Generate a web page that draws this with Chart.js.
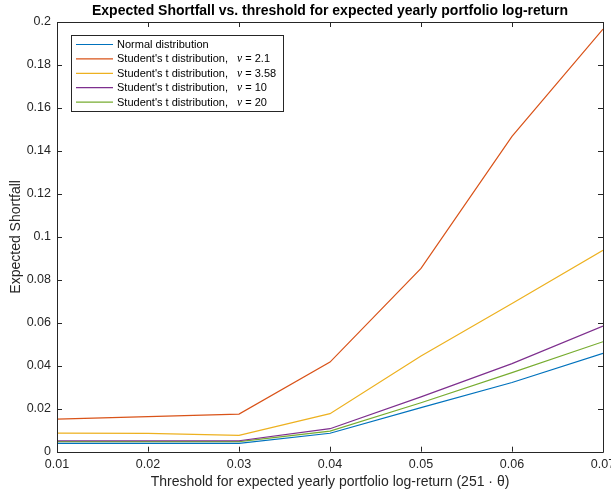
<!DOCTYPE html>
<html>
<head>
<meta charset="utf-8">
<script src="https://cdn.jsdelivr.net/npm/chart.js@4.4.1/dist/chart.umd.min.js"></script>
<style>
  html, body { margin: 0; padding: 0; background: #fff; overflow: hidden; }
  #wrap { position: relative; width: 625px; height: 495px; }
</style>
</head>
<body>
<div id="wrap"><canvas id="esChart"></canvas></div>
<script>
// Datos
const thresholds = [0.01, 0.02, 0.03, 0.04, 0.05, 0.06, 0.07];
const esNormal = [0.0039, 0.0039, 0.0039, 0.0086, 0.0205, 0.0322, 0.0458];
const esT21    = [0.0152, 0.0163, 0.0175, 0.0417, 0.0853, 0.1468, 0.1967];
const esT358   = [0.0086, 0.0085, 0.0076, 0.0177, 0.0445, 0.0690, 0.0937];
const esT10    = [0.0051, 0.0051, 0.0051, 0.0107, 0.0255, 0.0410, 0.0585];
const esT20    = [0.0047, 0.0047, 0.0047, 0.0096, 0.0228, 0.0368, 0.0512];

const seriesLabels = ['Normal distribution', "Student's t distribution,", "Student's t distribution,", "Student's t distribution,", "Student's t distribution,"];
const nuLabels = [null, '2.1', '3.58', '10', '20'];
const colores = ['#0072BD', '#D95319', '#EDB120', '#7E2F8E', '#77AC30'];

const titulo = 'Expected Shortfall vs. threshold for expected yearly portfolio log-return';
const textColor = '#262626';
const fontSans = '"Liberation Sans", Arial, Helvetica, sans-serif';

const allSeries = [esNormal, esT21, esT358, esT10, esT20];

const datasets = allSeries.map((serie, i) => ({
    label: seriesLabels[i] + (nuLabels[i] ? '  \u03BD = ' + nuLabels[i] : ''),
    data: thresholds.map((x, j) => ({ x: x, y: serie[j] })),
    borderColor: colores[i],
    backgroundColor: colores[i],
    borderWidth: 1.2,
    pointRadius: 0,
    tension: 0,
    fill: false
}));

// Marco tipo MATLAB, marcas hacia dentro, titulo y leyenda
const matlabBox = {
    id: 'matlabBox',
    afterDatasetsDraw(chart) {
        const ctx = chart.ctx;
        const a = chart.chartArea;
        const xs = chart.scales.x;
        const ys = chart.scales.y;
        const tl = 5;
        ctx.save();
        ctx.strokeStyle = textColor;
        ctx.lineWidth = 1;
        ctx.beginPath();
        ctx.rect(Math.round(a.left) + 0.5, Math.round(a.top) + 0.5, Math.round(a.right - a.left), Math.round(a.bottom - a.top));
        ctx.stroke();
        ctx.beginPath();
        xs.ticks.forEach(t => {
            const px = Math.round(xs.getPixelForValue(t.value)) + 0.5;
            ctx.moveTo(px, a.bottom); ctx.lineTo(px, a.bottom - tl);
            ctx.moveTo(px, a.top); ctx.lineTo(px, a.top + tl);
        });
        ys.ticks.forEach(t => {
            const py = Math.round(ys.getPixelForValue(t.value)) + 0.5;
            ctx.moveTo(a.left, py); ctx.lineTo(a.left + tl, py);
            ctx.moveTo(a.right, py); ctx.lineTo(a.right - tl, py);
        });
        ctx.stroke();

        // titulo
        ctx.fillStyle = '#000';
        ctx.font = 'bold 14px ' + fontSans;
        ctx.textAlign = 'center';
        ctx.textBaseline = 'middle';
        ctx.fillText(titulo, (a.left + a.right) / 2, 11);

        // leyenda
        const bx = 71, by = 35, bw = 212, bh = 76;
        ctx.fillStyle = '#fff';
        ctx.fillRect(bx, by, bw, bh);
        ctx.strokeStyle = textColor;
        ctx.lineWidth = 1;
        ctx.strokeRect(bx + 0.5, by + 0.5, bw, bh);
        ctx.textAlign = 'left';
        chart.data.datasets.forEach((ds, i) => {
            const yy = by + 9.5 + i * 14.4;
            ctx.strokeStyle = ds.borderColor;
            ctx.lineWidth = 1.2;
            ctx.beginPath();
            ctx.moveTo(bx + 5, yy); ctx.lineTo(bx + 42, yy);
            ctx.stroke();
            ctx.fillStyle = '#000';
            ctx.font = '11px ' + fontSans;
            let tx = bx + 46;
            ctx.fillText(seriesLabels[i], tx, yy + 0.5);
            if (nuLabels[i]) {
                tx += ctx.measureText(seriesLabels[i] + '   ').width;
                ctx.font = 'italic 11.5px "Liberation Serif", "Times New Roman", serif';
                ctx.fillText('\u03BD', tx, yy + 0.5);
                tx += ctx.measureText('\u03BD').width;
                ctx.font = '11px ' + fontSans;
                ctx.fillText(' = ' + nuLabels[i], tx, yy + 0.5);
            }
        });
        ctx.restore();
    }
};

new Chart(document.getElementById('esChart'), {
    type: 'line',
    data: { datasets: datasets },
    options: {
        responsive: true,
        maintainAspectRatio: false,
        animation: false,
        layout: { padding: { top: 22, right: 22, bottom: 0, left: 0 } },
        plugins: {
            legend: { display: false },
            title: { display: false },
            tooltip: { enabled: false }
        },
        scales: {
            x: {
                type: 'linear',
                min: 0.01,
                max: 0.07,
                border: { display: false },
                grid: { display: false, drawTicks: false },
                ticks: {
                    stepSize: 0.01,
                    padding: 5,
                    color: textColor,
                    font: { family: fontSans, size: 12.5 },
                    maxRotation: 0,
                    callback: v => v.toFixed(2)
                },
                title: {
                    display: true,
                    text: 'Threshold for expected yearly portfolio log-return (251 \u00B7 \u03B8)',
                    color: textColor,
                    font: { family: fontSans, size: 14 },
                    padding: { top: 2, bottom: 4 }
                },
                afterFit: s => { s.height = 43.3; }
            },
            y: {
                min: 0,
                max: 0.2,
                border: { display: false },
                grid: { display: false, drawTicks: false },
                ticks: {
                    stepSize: 0.02,
                    padding: 6,
                    color: textColor,
                    font: { family: fontSans, size: 12.5 },
                    callback: v => String(+v.toFixed(2))
                },
                title: {
                    display: true,
                    text: 'Expected Shortfall',
                    color: textColor,
                    font: { family: fontSans, size: 14 },
                    padding: { top: 8, bottom: 0 }
                },
                afterFit: s => { s.width = 57; }
            }
        }
    },
    plugins: [matlabBox]
});
</script>
</body>
</html>
